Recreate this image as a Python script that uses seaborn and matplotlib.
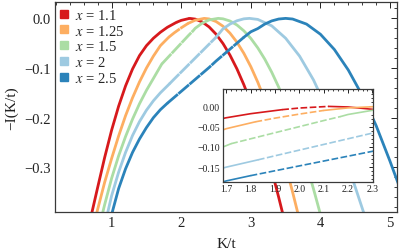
import numpy as np
import pandas as pd
import matplotlib
matplotlib.use("Agg")
import matplotlib.pyplot as plt
from matplotlib.ticker import MultipleLocator, FixedLocator
from matplotlib.lines import Line2D
import seaborn as sns

sns.set_theme(style="white")
plt.rcParams['font.family'] = ['Liberation Serif', 'DejaVu Serif']
plt.rcParams['mathtext.fontset'] = 'stix'

labels = ["1.1", "1.25", "1.5", "2", "2.5"]
colors = ["#d7191c", "#fdae61", "#abdda4", "#9ecae1", "#2b83ba"]

k_red = [0.71, 0.8, 0.9, 1.0, 1.1, 1.2, 1.3, 1.4, 1.5, 1.6, 1.7, 1.8, 1.93, 2.0, 2.12,
         2.2, 2.3, 2.4, 2.5, 2.6, 2.7, 2.8, 2.9, 3.0, 3.1, 3.2, 3.3, 3.4, 3.47]
y_red = [-0.395, -0.340, -0.280, -0.225, -0.177, -0.136, -0.102, -0.075, -0.055, -0.040,
         -0.028, -0.018, -0.008, -0.004, 0.0,
         -0.0014, -0.0071, -0.0172, -0.0318, -0.0507, -0.074, -0.1017, -0.1338, -0.1704,
         -0.2113, -0.2566, -0.3063, -0.3604, -0.40]
dash_red = [1.93, 2.12]

k_orange = [0.78, 0.9, 1.0, 1.1, 1.2, 1.3, 1.4, 1.5, 1.6, 1.7, 1.82, 1.9, 2.0, 2.1, 2.2,
            2.33, 2.4, 2.5, 2.6, 2.7, 2.8, 2.9, 3.0, 3.1, 3.2, 3.3, 3.4, 3.5, 3.6, 3.68]
y_orange = [-0.395, -0.330, -0.282, -0.237, -0.196, -0.160, -0.128, -0.100, -0.076, -0.055,
            -0.038, -0.029, -0.019, -0.010, -0.0037, 0.0,
            -0.0011, -0.0063, -0.0158, -0.0297, -0.0479, -0.0705, -0.0974, -0.1287, -0.1643,
            -0.2042, -0.2484, -0.2971, -0.350, -0.395]
dash_orange = [1.82, 2.1]

k_green = [0.865, 0.9, 1.0, 1.1, 1.2, 1.3, 1.4, 1.5, 1.6, 1.72, 1.8, 1.9, 2.0, 2.1, 2.17,
           2.2, 2.3, 2.4, 2.53, 2.6, 2.7, 2.8, 2.9, 3.0, 3.1, 3.2, 3.3, 3.4, 3.5, 3.6, 3.7,
           3.8, 3.9, 4.0]
y_green = [-0.395, -0.375, -0.322, -0.277, -0.238, -0.203, -0.172, -0.145, -0.121, -0.092,
           -0.080, -0.065, -0.050, -0.035, -0.025,
           -0.020, -0.0097, -0.0031, 0.0, -0.0009, -0.0053, -0.0133, -0.0251, -0.0404,
           -0.0595, -0.0821, -0.1085, -0.1385, -0.1722, -0.2095, -0.2505, -0.2952, -0.3435,
           -0.395]
dash_green = [1.72, 2.17]

k_lblue = [0.937, 1.0, 1.1, 1.2, 1.3, 1.4, 1.5, 1.6, 1.7, 1.83, 1.9, 2.0, 2.1, 2.2, 2.3,
           2.4, 2.5, 2.6, 2.7, 2.8, 2.9, 2.98, 3.1, 3.3, 3.5, 3.7, 3.9, 4.1, 4.3, 4.5, 4.63]
y_lblue = [-0.395, -0.357, -0.310, -0.270, -0.236, -0.208, -0.185, -0.166, -0.150, -0.132,
           -0.122, -0.108, -0.094, -0.080, -0.066, -0.052, -0.038,
           -0.021, -0.0115, -0.0048, -0.0009, 0.0, -0.0021, -0.015, -0.040, -0.076, -0.124,
           -0.184, -0.256, -0.340, -0.395]
dash_lblue = [1.83, 2.5]

k_dblue = [1.0, 1.1, 1.2, 1.3, 1.4, 1.5, 1.6, 1.7, 1.8, 1.9, 2.0, 2.1, 2.2, 2.3, 2.4, 2.5,
           2.6, 2.7, 2.8, 2.9, 3.0, 3.1, 3.2, 3.3, 3.4, 3.5, 3.6, 3.8, 4.0, 4.2, 4.4, 4.6,
           4.8, 5.0, 5.15]
y_dblue = [-0.395, -0.343, -0.303, -0.270, -0.243, -0.220, -0.200, -0.184, -0.171, -0.159,
           -0.147, -0.135, -0.123, -0.111, -0.099, -0.086, -0.074, -0.062, -0.050, -0.038,
           -0.027, -0.0205, -0.0115, -0.0051, -0.0013, 0.0, -0.0013, -0.0115, -0.032,
           -0.0627, -0.104, -0.155, -0.216, -0.288, -0.345]
dash_dblue = [1.8, 2.9]

series = [(k_red, y_red, dash_red), (k_orange, y_orange, dash_orange),
          (k_green, y_green, dash_green), (k_lblue, y_lblue, dash_lblue),
          (k_dblue, y_dblue, dash_dblue)]

main_xticks = [1, 2, 3, 4, 5]
main_yticks = [0.0, -0.1, -0.2, -0.3]
main_yticklabels = ["0.0", "\u22120.1", "\u22120.2", "\u22120.3"]
inset_xticks = [1.7, 1.8, 1.9, 2.0, 2.1, 2.2, 2.3]
inset_yticks = [0.0, -0.05, -0.10, -0.15]
inset_yticklabels = ["0.00", "\u22120.05", "\u22120.10", "\u22120.15"]

W, H = 399, 253
fig = plt.figure(figsize=(W / 100, H / 100), dpi=100)
ax = fig.add_axes([55 / W, 1 - 212.7 / H, (397 - 55) / W, (212.7 - 3) / H])
axin = fig.add_axes([222.7 / W, 1 - 182.7 / H, (373 - 222.7) / W, (182.7 - 90) / H])

def draw(a, lw, dash):
    for (k, y, d), c in zip(series, colors):
        df = pd.DataFrame({"K": k, "Y": y})
        parts = [(df[df.K <= d[0]], "-"), (df[(df.K >= d[0]) & (df.K <= d[1])], dash),
                 (df[df.K >= d[1]], "-")]
        for part, ls in parts:
            if len(part) < 2:
                continue
            sns.lineplot(data=part, x="K", y="Y", ax=a, color=c, lw=lw, sort=False,
                         estimator=None, linestyle=ls, legend=False)

draw(ax, 2.0, (0, (5.0, 0.25)))
draw(axin, 1.2, (0, (4, 1.5)))

frame_col = "#3a3a3a"
for a in (ax, axin):
    for s in a.spines.values():
        s.set_color(frame_col)
        s.set_linewidth(0.9)
    a.set_xlabel("")
    a.set_ylabel("")
    a.tick_params(which="both", direction="in", top=True, right=True,
                  color=frame_col, width=0.7)

ax.set_xlim(0.186, 5.1)
ax.set_ylim(-0.3895, 0.033)
ax.xaxis.set_major_locator(FixedLocator(main_xticks))
ax.xaxis.set_minor_locator(MultipleLocator(0.2))
ax.yaxis.set_major_locator(FixedLocator(main_yticks))
ax.set_yticklabels(main_yticklabels)
ax.yaxis.set_minor_locator(MultipleLocator(0.02))
ax.tick_params(which="major", length=4, labelsize=10.5, pad=3, colors="#222222")
ax.tick_params(which="minor", length=2)
ax.set_xlabel("K/t", fontsize=11, labelpad=6, color="#222222")
ax.set_ylabel("\u2212I(K/t)", fontsize=11, labelpad=4, color="#222222")

axin.set_xlim(1.685, 2.303)
axin.set_ylim(-0.186, 0.043)
axin.xaxis.set_major_locator(FixedLocator(inset_xticks))
axin.xaxis.set_minor_locator(MultipleLocator(0.02))
axin.yaxis.set_major_locator(FixedLocator(inset_yticks))
axin.set_yticklabels(inset_yticklabels)
axin.yaxis.set_minor_locator(MultipleLocator(0.01))
axin.tick_params(which="major", length=3, labelsize=7, pad=2, colors="#222222")
axin.tick_params(which="minor", length=1.5)
axin.set_facecolor("white")

handles = [Line2D([], [], marker="s", linestyle="none", markersize=5.5, color=c) for c in colors]
leg = ax.legend(handles, [f"$x$ = {l}" for l in labels], loc="upper left",
                bbox_to_anchor=(0.0, 1.0), frameon=False, fontsize=10.5,
                handlelength=0.5, handletextpad=0.45, labelspacing=0.12,
                borderaxespad=0.0, borderpad=0.4)

fig.savefig("out.png", dpi=100)
